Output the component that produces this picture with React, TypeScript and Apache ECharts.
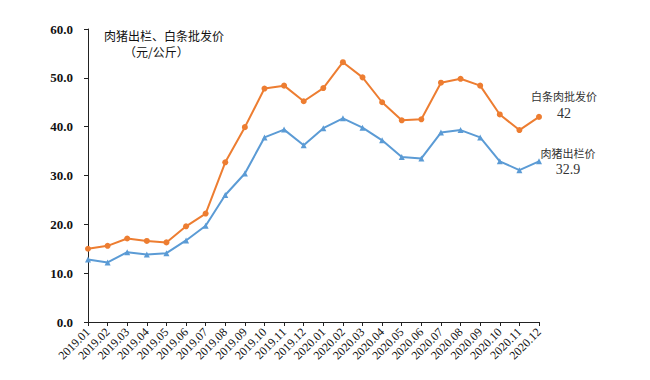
import React, { useEffect, useRef } from "react";
import * as echarts from "echarts";

const categories = [
  "2019.01", "2019.02", "2019.03", "2019.04", "2019.05", "2019.06",
  "2019.07", "2019.08", "2019.09", "2019.10", "2019.11", "2019.12",
  "2020.01", "2020.02", "2020.03", "2020.04", "2020.05", "2020.06",
  "2020.07", "2020.08", "2020.09", "2020.10", "2020.11", "2020.12",
];

const wholesalePrice = [
  15.0, 15.6, 17.1, 16.6, 16.3, 19.6, 22.2, 32.7, 39.9, 47.8, 48.4, 45.2,
  47.9, 53.2, 50.1, 45.0, 41.3, 41.5, 49.0, 49.8, 48.4, 42.5, 39.3, 42.0,
];

const hogPrice = [
  12.8, 12.2, 14.3, 13.8, 14.1, 16.7, 19.7, 26.0, 30.4, 37.8, 39.4, 36.2,
  39.7, 41.7, 39.8, 37.2, 33.8, 33.5, 38.8, 39.3, 37.8, 32.9, 31.1, 32.9,
];

const seriesNames = ["白条肉批发价", "肉猪出栏价"];
const titleLines = ["肉猪出栏、白条批发价", "（元/公斤）"];

const serif = "'Liberation Serif', 'DejaVu Serif', 'Noto Sans CJK SC', serif";
const cjk = "'Noto Sans CJK SC', sans-serif";

function withEndLabel(values: number[], name: string, offset: [number, number]) {
  return values.map((v, i) =>
    i === values.length - 1
      ? {
          value: v,
          label: {
            show: true,
            position: "right",
            offset,
            align: "center",
            verticalAlign: "middle",
            formatter: () => `{n|${name}}\n{v|${v % 1 === 0 ? v.toFixed(0) : v.toFixed(1)}}`,
            rich: {
              n: { fontFamily: cjk, fontSize: 11, color: "#333", lineHeight: 17, align: "center" },
              v: { fontFamily: serif, fontSize: 14, color: "#333", lineHeight: 17, align: "center" },
            },
          },
        }
      : v
  );
}

export default function App() {
  const ref = useRef<HTMLDivElement>(null);
  useEffect(() => {
    if (!ref.current) return;
    const chart = echarts.init(ref.current, undefined, { renderer: "svg" });
    chart.setOption({
      animation: false,
      backgroundColor: "#fff",
      grid: { left: 88, right: 111, top: 29, bottom: 58, containLabel: false },
      graphic: [
        {
          type: "text",
          left: 104,
          top: 29,
          style: { text: titleLines[0], font: `12px ${cjk}`, fill: "#111" },
        },
        {
          type: "text",
          left: 124,
          top: 45,
          style: { text: titleLines[1], font: `12px ${cjk}`, fill: "#111" },
        },
      ],
      xAxis: {
        type: "category",
        data: categories,
        boundaryGap: false,
        axisLine: { lineStyle: { color: "#222", width: 1 } },
        axisTick: { show: true, alignWithLabel: true, length: 4, lineStyle: { color: "#222" } },
        axisLabel: {
          rotate: 45,
          interval: 0,
          fontFamily: serif,
          fontSize: 12,
          color: "#111",
          margin: 8,
        },
        splitLine: { show: false },
      },
      yAxis: {
        type: "value",
        min: 0,
        max: 60,
        interval: 10,
        axisLine: { show: true, lineStyle: { color: "#222", width: 1 } },
        axisTick: { show: true, length: 4, lineStyle: { color: "#222" } },
        axisLabel: {
          formatter: (v: number) => v.toFixed(1),
          fontFamily: serif,
          fontSize: 13,
          fontWeight: "bold",
          color: "#111",
          margin: 15,
        },
        splitLine: { show: false },
      },
      series: [
        {
          name: seriesNames[0],
          type: "line",
          data: withEndLabel(wholesalePrice, seriesNames[0], [17, -12]),
          symbol: "circle",
          symbolSize: 6,
          lineStyle: { color: "#ED7D31", width: 2 },
          itemStyle: { color: "#ED7D31" },
        },
        {
          name: seriesNames[1],
          type: "line",
          data: withEndLabel(hogPrice, seriesNames[1], [21, 0]),
          symbol: "triangle",
          symbolSize: 6,
          lineStyle: { color: "#5B9BD5", width: 2 },
          itemStyle: { color: "#5B9BD5" },
        },
      ],
    });
    return () => chart.dispose();
  }, []);
  return <div ref={ref} style={{ width: 650, height: 380, margin: -8 }} />;
}
